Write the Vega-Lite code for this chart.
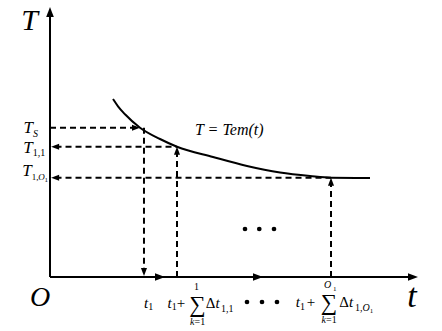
{
  "$schema": "https://vega.github.io/schema/vega-lite/v6.json",
  "width": 442,
  "height": 331,
  "padding": 0,
  "autosize": {"type": "fit", "contains": "padding"},
  "background": "white",
  "config": {"view": {"stroke": null}, "text": {"font": "Liberation Serif", "color": "black"}},
  "encoding": {
    "x": {"field": "t", "type": "quantitative", "scale": {"domain": [-13.587, 106.522], "nice": false, "zero": false}, "axis": null},
    "y": {"field": "T", "type": "quantitative", "scale": {"domain": [-20.074, 102.974], "nice": false, "zero": false}, "axis": null}
  },
  "layer": [
    {
      "data": {"values": [
        {"t": 0, "T": 0, "t2": 0, "T2": 99},
        {"t": 0, "T": 0, "t2": 99, "T2": 0}
      ]},
      "mark": {"type": "rule", "color": "black", "strokeWidth": 2},
      "encoding": {"x2": {"field": "t2"}, "y2": {"field": "T2"}}
    },
    {
      "data": {"values": [
        {"t": 17.12, "T": 66.17},
        {"t": 18.48, "T": 63.46},
        {"t": 20.38, "T": 60.48},
        {"t": 24.46, "T": 55.5},
        {"t": 29.89, "T": 51.3},
        {"t": 34.51, "T": 48.44},
        {"t": 44.29, "T": 44.61},
        {"t": 53.53, "T": 41.26},
        {"t": 62.5, "T": 38.85},
        {"t": 70.65, "T": 37.55},
        {"t": 76.36, "T": 36.91},
        {"t": 86.96, "T": 36.8}
      ]},
      "mark": {"type": "line", "color": "black", "strokeWidth": 2, "interpolate": "monotone"},
      "encoding": {}
    },
    {
      "data": {"values": [
        {"t": 0, "T": 55.5, "t2": 23.5, "T2": 55.5},
        {"t": 25.54, "T": 55.5, "t2": 25.54, "T2": 2},
        {"t": 1.5, "T": 48.44, "t2": 34.51, "T2": 48.44},
        {"t": 34.51, "T": 0, "t2": 34.51, "T2": 46.5},
        {"t": 1.5, "T": 36.91, "t2": 76.36, "T2": 36.91},
        {"t": 76.36, "T": 0, "t2": 76.36, "T2": 35}
      ]},
      "mark": {"type": "rule", "color": "black", "strokeWidth": 2, "strokeDash": [6, 4]},
      "encoding": {"x2": {"field": "t2"}, "y2": {"field": "T2"}}
    },
    {
      "data": {"values": [
        {"t": 0, "T": 100.4, "dir": "up"},
        {"t": 100, "T": 0, "dir": "right"},
        {"t": 31.25, "T": 0, "dir": "right"},
        {"t": 57.88, "T": 0, "dir": "right"}
      ]},
      "mark": {"type": "point", "filled": true, "color": "black", "opacity": 1, "size": 400},
      "encoding": {"shape": {"field": "dir", "type": "nominal", "legend": null, "scale": {"domain": ["up", "down", "left", "right"], "range": ["M0,0L-0.38,1L0.38,1Z", "M0,0L-0.38,-1L0.38,-1Z", "M0,0L1,-0.38L1,0.38Z", "M0,0L-1,-0.38L-1,0.38Z"]}}}
    },
    {
      "data": {"values": [
        {"t": 24.46, "T": 55.5, "dir": "right"},
        {"t": 25.54, "T": 0.4, "dir": "down"},
        {"t": 0.3, "T": 48.44, "dir": "left"},
        {"t": 34.51, "T": 48.44, "dir": "up"},
        {"t": 0.3, "T": 36.91, "dir": "left"},
        {"t": 76.36, "T": 36.91, "dir": "up"}
      ]},
      "mark": {"type": "point", "filled": true, "color": "black", "opacity": 1, "size": 256},
      "encoding": {"shape": {"field": "dir", "type": "nominal", "legend": null, "scale": {"domain": ["up", "down", "left", "right"], "range": ["M0,0L-0.45,1L0.45,1Z", "M0,0L-0.45,-1L0.45,-1Z", "M0,0L1,-0.45L1,0.45Z", "M0,0L-1,-0.45L-1,0.45Z"]}}}
    },
    {
      "data": {"values": [
        {"t": 52.99, "T": 17.84},
        {"t": 56.87, "T": 17.84},
        {"t": 60.87, "T": 17.84},
        {"t": 53.53, "T": -9.29},
        {"t": 57.61, "T": -9.29},
        {"t": 61.68, "T": -9.29}
      ]},
      "mark": {"type": "circle", "color": "black", "opacity": 1, "size": 22},
      "encoding": {}
    },
    {
      "data": {"values": [{"t": -5.57, "T": 91.82, "label": "T"}]},
      "mark": {"type": "text", "font": "Liberation Serif", "fontStyle": "italic", "fontSize": 30, "align": "center", "baseline": "alphabetic"},
      "encoding": {"text": {"field": "label"}}
    },
    {
      "data": {"values": [{"t": 98.37, "T": -11.15, "label": "t"}]},
      "mark": {"type": "text", "font": "Liberation Serif", "fontStyle": "italic", "fontSize": 34, "align": "center", "baseline": "alphabetic"},
      "encoding": {"text": {"field": "label"}}
    },
    {
      "data": {"values": [{"t": -2.72, "T": -10.78, "label": "O"}]},
      "mark": {"type": "text", "font": "Liberation Serif", "fontStyle": "italic", "fontSize": 28, "align": "center", "baseline": "alphabetic"},
      "encoding": {"text": {"field": "label"}}
    },
    {
      "data": {"values": [
        {"t": -4.62, "T": 53.53, "label": "T"},
        {"t": -4.70, "T": 45.99, "label": "T"},
        {"t": -4.97, "T": 37.66, "label": "T"}
      ]},
      "mark": {"type": "text", "font": "Liberation Serif", "fontStyle": "italic", "fontSize": 17, "align": "right", "baseline": "alphabetic"},
      "encoding": {"text": {"field": "label"}}
    },
    {
      "data": {"values": [{"t": 39.4, "T": 52.79, "label": "T = Tem(t)"}]},
      "mark": {"type": "text", "font": "Liberation Serif", "fontStyle": "italic", "fontSize": 16, "align": "left", "baseline": "alphabetic"},
      "encoding": {"text": {"field": "label"}}
    },
    {
      "data": {"values": [
        {"t": 26.71, "T": -11.52, "label": "t"},
        {"t": 33.07, "T": -11.52, "label": "t"},
        {"t": 67.93, "T": -11.26, "label": "t"}
      ]},
      "mark": {"type": "text", "font": "Liberation Serif", "fontStyle": "italic", "fontSize": 15, "align": "right", "baseline": "alphabetic"},
      "encoding": {"text": {"field": "label"}}
    },
    {
      "data": {"values": [
        {"t": 44.97, "T": -11.52, "label": "t"},
        {"t": 81.25, "T": -11.15, "label": "t"}
      ]},
      "mark": {"type": "text", "font": "Liberation Serif", "fontStyle": "italic", "fontSize": 15, "align": "left", "baseline": "alphabetic"},
      "encoding": {"text": {"field": "label"}}
    },
    {
      "data": {"values": [
        {"t": 44.97, "T": -11.52, "label": "Δ"},
        {"t": 81.25, "T": -11.15, "label": "Δ"}
      ]},
      "mark": {"type": "text", "font": "Liberation Serif", "fontSize": 15, "align": "right", "baseline": "alphabetic"},
      "encoding": {"text": {"field": "label"}}
    },
    {
      "data": {"values": [
        {"t": 35.6, "T": -11.52, "label": "+"},
        {"t": 70.92, "T": -11.26, "label": "+"}
      ]},
      "mark": {"type": "text", "font": "Liberation Serif", "fontSize": 15, "align": "center", "baseline": "alphabetic"},
      "encoding": {"text": {"field": "label"}}
    },
    {
      "data": {"values": [
        {"t": 40.08, "T": -13.01, "label": "∑"},
        {"t": 75.82, "T": -12.27, "label": "∑"}
      ]},
      "mark": {"type": "text", "font": "Liberation Serif", "fontSize": 23, "align": "center", "baseline": "alphabetic"},
      "encoding": {"text": {"field": "label"}}
    },
    {
      "data": {"values": [
        {"t": 26.71, "T": -12.45, "label": "1"},
        {"t": 33.07, "T": -12.45, "label": "1"},
        {"t": 67.93, "T": -12.27, "label": "1"},
        {"t": -4.70, "T": 44.98, "label": "1,1"},
        {"t": 46.47, "T": -12.83, "label": "1,1"},
        {"t": 82.88, "T": -12.64, "label": "1,"},
        {"t": 39.27, "T": -17.84, "label": "=1"},
        {"t": 75.0, "T": -17.21, "label": "=1"}
      ]},
      "mark": {"type": "text", "font": "Liberation Serif", "fontSize": 10, "align": "left", "baseline": "alphabetic"},
      "encoding": {"text": {"field": "label"}}
    },
    {
      "data": {"values": [
        {"t": -4.97, "T": 36.06, "label": "1,"}
      ]},
      "mark": {"type": "text", "font": "Liberation Serif", "fontSize": 9, "align": "left", "baseline": "alphabetic"},
      "encoding": {"text": {"field": "label"}}
    },
    {
      "data": {"values": [
        {"t": -3.21, "T": 36.06, "label": "O"}
      ]},
      "mark": {"type": "text", "font": "Liberation Serif", "fontStyle": "italic", "fontSize": 9, "align": "left", "baseline": "alphabetic"},
      "encoding": {"text": {"field": "label"}}
    },
    {
      "data": {"values": [
        {"t": -4.62, "T": 52.04, "label": "S"},
        {"t": 84.92, "T": -12.64, "label": "O"}
      ]},
      "mark": {"type": "text", "font": "Liberation Serif", "fontStyle": "italic", "fontSize": 10, "align": "left", "baseline": "alphabetic"},
      "encoding": {"text": {"field": "label"}}
    },
    {
      "data": {"values": [
        {"t": 39.27, "T": -17.84, "label": "k"},
        {"t": 75.0, "T": -17.21, "label": "k"},
        {"t": 76.4, "T": -4.2, "label": "O"}
      ]},
      "mark": {"type": "text", "font": "Liberation Serif", "fontStyle": "italic", "fontSize": 10, "align": "right", "baseline": "alphabetic"},
      "encoding": {"text": {"field": "label"}}
    },
    {
      "data": {"values": [{"t": 39.81, "T": -4.83, "label": "1"}]},
      "mark": {"type": "text", "font": "Liberation Serif", "fontSize": 10, "align": "center", "baseline": "alphabetic"},
      "encoding": {"text": {"field": "label"}}
    },
    {
      "data": {"values": [
        {"t": -1.49, "T": 35.32, "label": "1"},
        {"t": 76.9, "T": -5.2, "label": "1"},
        {"t": 86.88, "T": -13.38, "label": "1"}
      ]},
      "mark": {"type": "text", "font": "Liberation Serif", "fontSize": 7, "align": "left", "baseline": "alphabetic"},
      "encoding": {"text": {"field": "label"}}
    }
  ]
}
